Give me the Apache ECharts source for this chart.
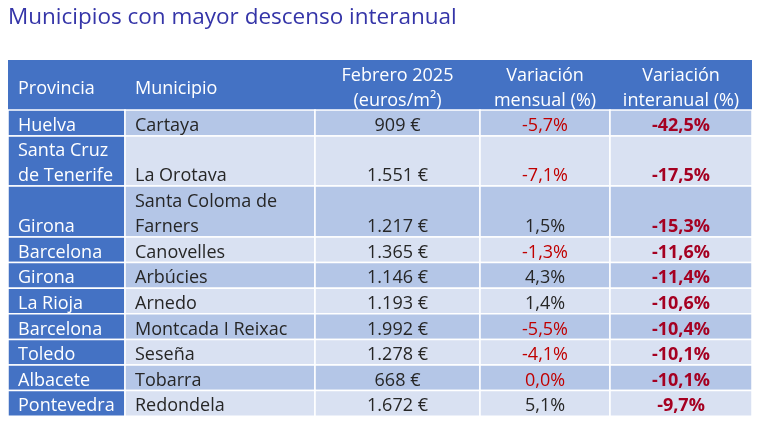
<!DOCTYPE html>
<html>
<head>
<meta charset="utf-8">
<script src="https://cdn.jsdelivr.net/npm/echarts@6/dist/echarts.min.js"></script>
<style>html,body{margin:0;padding:0;background:#fff}#main{width:760px;height:427px}</style>
</head>
<body>
<div id="main"></div>
<script>
const titulo = 'Municipios con mayor descenso interanual';
const columnas = ['Provincia', 'Municipio', 'Febrero 2025\n(euros/m²)', 'Variación\nmensual (%)', 'Variación\ninteranual (%)'];
const provincias = ['Huelva', 'Santa Cruz\nde Tenerife', 'Girona', 'Barcelona', 'Girona', 'La Rioja', 'Barcelona', 'Toledo', 'Albacete', 'Pontevedra'];
const municipios = ['Cartaya', 'La Orotava', 'Santa Coloma de\nFarners', 'Canovelles', 'Arbúcies', 'Arnedo', 'Montcada I Reixac', 'Seseña', 'Tobarra', 'Redondela'];
const precios = [909, 1551, 1217, 1365, 1146, 1193, 1992, 1278, 668, 1672];
const varMensual = [-5.7, -7.1, 1.5, -1.3, 4.3, 1.4, -5.5, -4.1, 0.0, 5.1];
const varInteranual = [-42.5, -17.5, -15.3, -11.6, -11.4, -10.6, -10.4, -10.1, -10.1, -9.7];

// layout (pixel units of the hidden value axes)
const colWidths = [117, 190, 165, 130, 142];
const headerHeight = 50;
const rowHeights = [26, 50, 51, 25.6, 25.6, 25.6, 25.6, 25.6, 25.6, 25.6];

const colEdges = [0];
colWidths.forEach(w => colEdges.push(colEdges[colEdges.length - 1] + w));
const rowEdges = [0, headerHeight];
rowHeights.forEach(h => rowEdges.push(rowEdges[rowEdges.length - 1] + h));
const totalW = colEdges[colEdges.length - 1];
const totalH = rowEdges[rowEdges.length - 1];

function fmtPrecio(n) { return String(n).replace(/\B(?=(\d{3})+(?!\d))/g, '.') + ' €'; }
function fmtPct(v) { return v.toFixed(1).replace('.', ',') + '%'; }

const FONT = '"Open Sans", "Noto Sans", sans-serif';
const FS = 18;
const cells = [];
for (let r = 0; r <= provincias.length; r++) {
  for (let c = 0; c < columnas.length; c++) cells.push([c, r]);
}

function cellText(c, r) {
  if (r === 0) return columnas[c];
  const i = r - 1;
  return [provincias[i], municipios[i], fmtPrecio(precios[i]), fmtPct(varMensual[i]), fmtPct(varInteranual[i])][c];
}

function renderItem(params, api) {
  const c = api.value(0), r = api.value(1);
  const p0 = api.coord([colEdges[c], rowEdges[r]]);
  const p1 = api.coord([colEdges[c + 1], rowEdges[r + 1]]);
  const children = [];
  const txt = cellText(c, r);
  const left = c < 2;
  const tx = left ? p0[0] + 10 : (p0[0] + p1[0]) / 2;
  if (r === 0) {
    if (c === 0) {
      const pe = api.coord([totalW, rowEdges[1]]);
      children.push({ type: 'rect', shape: { x: p0[0], y: p0[1], width: pe[0] - p0[0], height: pe[1] - p0[1] }, style: { fill: '#4472C4' } });
    }
    children.push({
      type: 'text', z2: 10,
      style: { text: txt, x: tx, y: (p0[1] + p1[1]) / 2 + 3.5, align: left ? 'left' : 'center', verticalAlign: 'middle',
        fill: '#FFFFFF', fontFamily: FONT, fontSize: FS, lineHeight: 25 }
    });
  } else {
    const i = r - 1;
    let fill = c === 0 ? '#4472C4' : (i % 2 === 0 ? '#B4C6E7' : '#D9E1F2');
    children.push({ type: 'rect', shape: { x: p0[0], y: p0[1], width: p1[0] - p0[0], height: p1[1] - p0[1] },
      style: { fill: fill, stroke: '#FFFFFF', lineWidth: 1.5 } });
    let color = '#262626', weight = 'normal';
    if (c === 0) color = '#FFFFFF';
    if (c === 3 && varMensual[i] <= 0) color = '#C00000';
    if (c === 4) { color = '#A50021'; weight = 'bold'; }
    children.push({
      type: 'text', z2: 10,
      style: { text: txt, x: tx, y: p1[1] + 2.5, align: left ? 'left' : 'center', verticalAlign: 'bottom',
        fill: color, fontFamily: FONT, fontSize: FS, fontWeight: weight, lineHeight: 25 }
    });
  }
  return { type: 'group', children: children };
}

const chart = echarts.init(document.getElementById('main'), null, { renderer: 'canvas' });
chart.setOption({
  animation: false,
  title: { text: titulo, left: 3, top: 1, textStyle: { color: '#3535A8', fontFamily: FONT, fontSize: 22.5, fontWeight: 'normal' } },
  grid: { left: 8, top: 60, width: totalW, height: totalH },
  xAxis: { type: 'value', min: 0, max: totalW, show: false },
  yAxis: { type: 'value', min: 0, max: totalH, inverse: true, show: false },
  series: [{ type: 'custom', renderItem: renderItem, data: cells, clip: false, silent: true }]
});
</script>
</body>
</html>
